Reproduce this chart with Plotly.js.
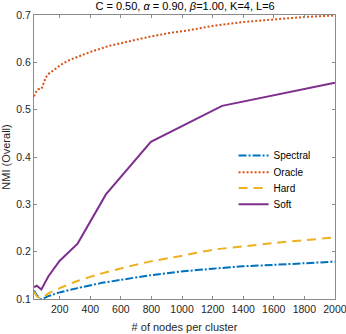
<!DOCTYPE html>
<html>
<head>
<meta charset="utf-8">
<script src="https://cdn.plot.ly/plotly-3.0.1.min.js"></script>
<style>
  html, body { margin: 0; padding: 0; background: #fff; }
  #plot { width: 346px; height: 334px; }
</style>
</head>
<body>
<div id="plot"></div>
<script>
// values
const nodesCoarse = [31.7, 50.2, 79.6, 126, 200, 317, 461, 592, 788, 994, 1200, 1396, 1592, 2000];
const spectral    = [0.118, 0.108, 0.100, 0.106, 0.114, 0.123, 0.133, 0.140, 0.150, 0.158, 0.164, 0.169, 0.172, 0.179];
const hard        = [0.116, 0.106, 0.101, 0.112, 0.123, 0.138, 0.153, 0.164, 0.179, 0.191, 0.204, 0.211, 0.218, 0.230];

const nodesSoft = [31.7, 50.2, 79.6, 126, 200, 317, 502, 796, 1262, 2000];
const soft      = [0.125, 0.128, 0.120, 0.148, 0.181, 0.217, 0.321, 0.432, 0.508, 0.557];

const nodesOracle = [31.7, 44, 59, 81, 96, 109, 124, 140, 161, 189, 222, 265, 309, 352, 400,
                     526, 657, 787, 918, 1048, 1200, 1396, 1614, 1809, 2000];
const oracle      = [0.528, 0.537, 0.543, 0.544, 0.557, 0.568, 0.575, 0.579, 0.584, 0.591, 0.598,
                     0.605, 0.611, 0.616, 0.622, 0.635, 0.645, 0.654, 0.662, 0.668, 0.677, 0.685,
                     0.691, 0.696, 0.699];

const xTicks = [200, 400, 600, 800, 1000, 1200, 1400, 1600, 1800, 2000];
const yTicks = [0.1, 0.2, 0.3, 0.4, 0.5, 0.6, 0.7];

// where each legend entry sits (paper y of its centre)
const legendY = [0.505, 0.446, 0.391, 0.334];

const font = 'Liberation Sans, Arial, Helvetica, sans-serif';

const traces = [
  { x: nodesCoarse, y: spectral, name: 'Spectral', mode: 'lines', type: 'scatter', legend: 'legend',
    line: { color: '#0072BD', width: 2, dash: '8px,2px,2px,2px', shape: 'spline', smoothing: 0.6 } },
  { x: nodesOracle, y: oracle, name: 'Oracle', mode: 'lines', type: 'scatter', legend: 'legend2',
    line: { color: '#D95319', width: 2, dash: '2px,2px' } },
  { x: nodesCoarse, y: hard, name: 'Hard', mode: 'lines', type: 'scatter', legend: 'legend3',
    line: { color: '#EDB120', width: 2, dash: '9px,6px', shape: 'spline', smoothing: 0.6 } },
  { x: nodesSoft, y: soft, name: 'Soft', mode: 'lines', type: 'scatter', legend: 'legend4',
    line: { color: '#7E2F8E', width: 2 } }
];

const axisCommon = {
  showline: true, linecolor: '#8a8a8a', linewidth: 1, mirror: 'ticks',
  ticks: 'inside', ticklen: 3, tickcolor: '#8a8a8a', tickwidth: 1,
  showgrid: false, zeroline: false, ticklabeloverflow: 'allow',
  tickfont: { family: font, size: 10.5, color: '#262626' }
};

function legendAt(y) {
  return {
    x: 0.663, xanchor: 'left', y: y, yanchor: 'middle',
    bgcolor: 'rgba(255,255,255,0)', borderwidth: 0,
    font: { family: font, size: 10, color: '#000' }
  };
}

const layout = {
  width: 346, height: 334,
  margin: { l: 34, r: 11, t: 15, b: 35 },
  paper_bgcolor: '#fff', plot_bgcolor: '#fff',
  font: { family: font, color: '#262626' },
  title: {
    text: 'C = 0.50, <i>α</i> = 0.90, <i>β</i>=1.00, K=4, L=6',
    font: { family: font, size: 11, color: '#000' },
    x: 0.535, xanchor: 'center', y: 0.982, yanchor: 'middle'
  },
  xaxis: Object.assign({}, axisCommon, {
    range: [31.7, 2000.5], tickvals: xTicks, ticktext: xTicks.map(String),
    title: { text: '# of nodes per cluster', font: { family: font, size: 11, color: '#262626' }, standoff: 9 }
  }),
  yaxis: Object.assign({}, axisCommon, {
    range: [0.1, 0.7], tickvals: yTicks, ticktext: yTicks.map(v => v.toFixed(1)),
    title: { text: 'NMI (Overall)', font: { family: font, size: 11, color: '#262626' }, standoff: 4 }
  }),
  showlegend: true,
  legend: legendAt(legendY[0]),
  legend2: legendAt(legendY[1]),
  legend3: legendAt(legendY[2]),
  legend4: legendAt(legendY[3])
};

Plotly.newPlot('plot', traces, layout, { displayModeBar: false, staticPlot: true });
</script>
</body>
</html>
